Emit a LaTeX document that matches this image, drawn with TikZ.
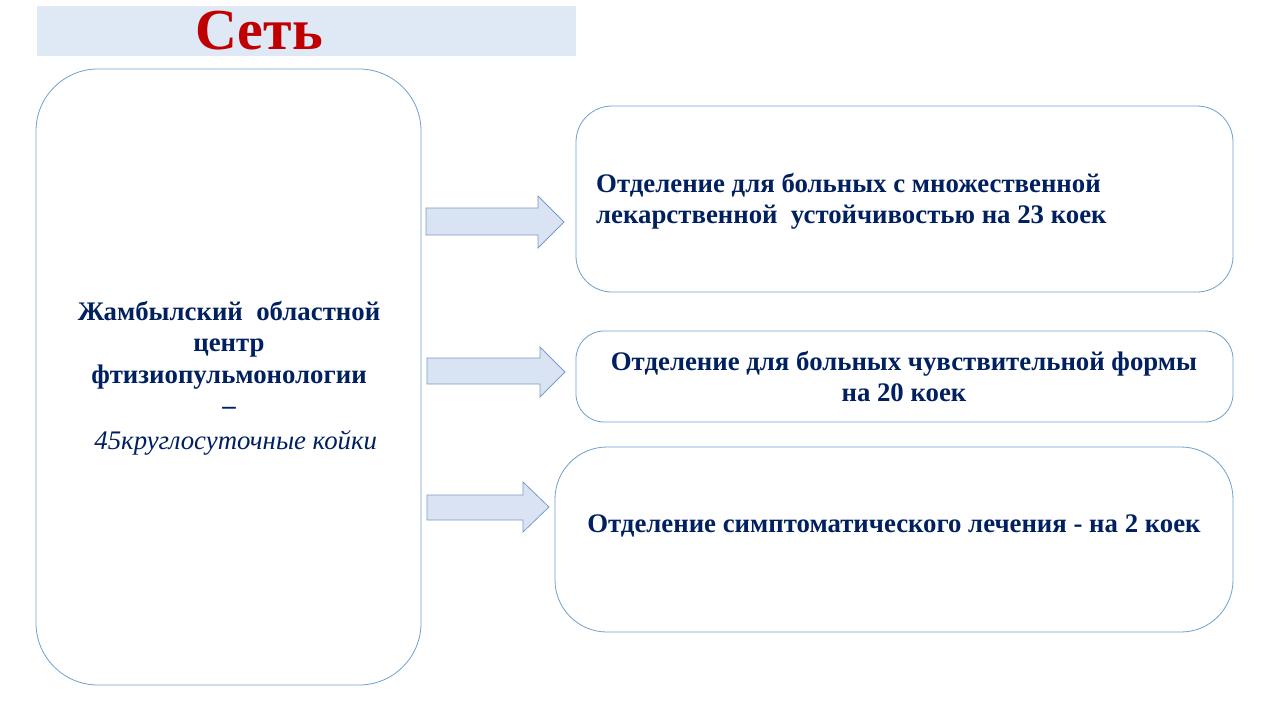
\documentclass[tikz,border=0pt]{standalone}
\usepackage{fontspec}
\setmainfont{Liberation Serif}
\definecolor{boxline}{HTML}{6FA0CF}
\definecolor{navy}{HTML}{002060}
\definecolor{titlered}{HTML}{C00000}
\definecolor{titlebg}{HTML}{DEE9F5}
\definecolor{arrowfill}{HTML}{DAE3F3}
\definecolor{arrowline}{HTML}{7A9CC6}
\begin{document}
\begin{tikzpicture}[x=1pt,y=-1pt,
  rbox/.style={draw=boxline, line width=0.8pt, fill=white},
  btext/.style={text=navy, font=\bfseries\fontsize{26.8}{31}\selectfont, inner sep=0pt},
  barrow/.style={draw=arrowline, line width=0.8pt, fill=arrowfill, line join=miter}]
\useasboundingbox (0,0) rectangle (1280,720);
\fill[white] (0,0) rectangle (1280,720);
% title
\fill[titlebg] (37,6) rectangle (576,56);
\node[text=titlered, font=\bfseries\fontsize{58}{60}\selectfont, inner sep=0pt] (title) at (259,31) {Сеть};
% left box
\draw[rbox, rounded corners=62pt] (36,69) rectangle (421,685);
\node[btext, align=center, font=\bfseries\fontsize{26.8}{31.5}\selectfont] (left) at (229,378) {Жамбылский\ \ областной\\центр\\фтизиопульмонологии\\–\\[3pt]\ \ \normalfont\itshape\fontsize{26.8}{31.5}\selectfont 45круглосуточные койки};
% right boxes
\draw[rbox, rounded corners=36pt] (576,106) rectangle (1233,292);
\node[btext, align=left, anchor=west] (b1) at (596,201) {Отделение для больных с множественной\\лекарственной\ \ устойчивостью на 23 коек};
\draw[rbox, rounded corners=28pt] (576,331) rectangle (1233,422);
\node[btext, align=center] (b2) at (904,377) {Отделение для больных чувствительной формы\\на 20 коек};
\draw[rbox, rounded corners=52pt] (555,447) rectangle (1233,632);
\node[btext] (b3) at (894,526) {Отделение симптоматического лечения - на 2 коек};
% block arrows
\draw[barrow] (426,208) -- (538,208) -- (538,196) -- (564,222) -- (538,248) -- (538,235) -- (426,235) -- cycle;
\draw[barrow] (427,358) -- (540,358) -- (540,347) -- (565,372) -- (540,397) -- (540,384) -- (427,384) -- cycle;
\draw[barrow] (427,495) -- (523,495) -- (523,482) -- (549,507) -- (523,532) -- (523,520) -- (427,520) -- cycle;
\end{tikzpicture}
\end{document}
